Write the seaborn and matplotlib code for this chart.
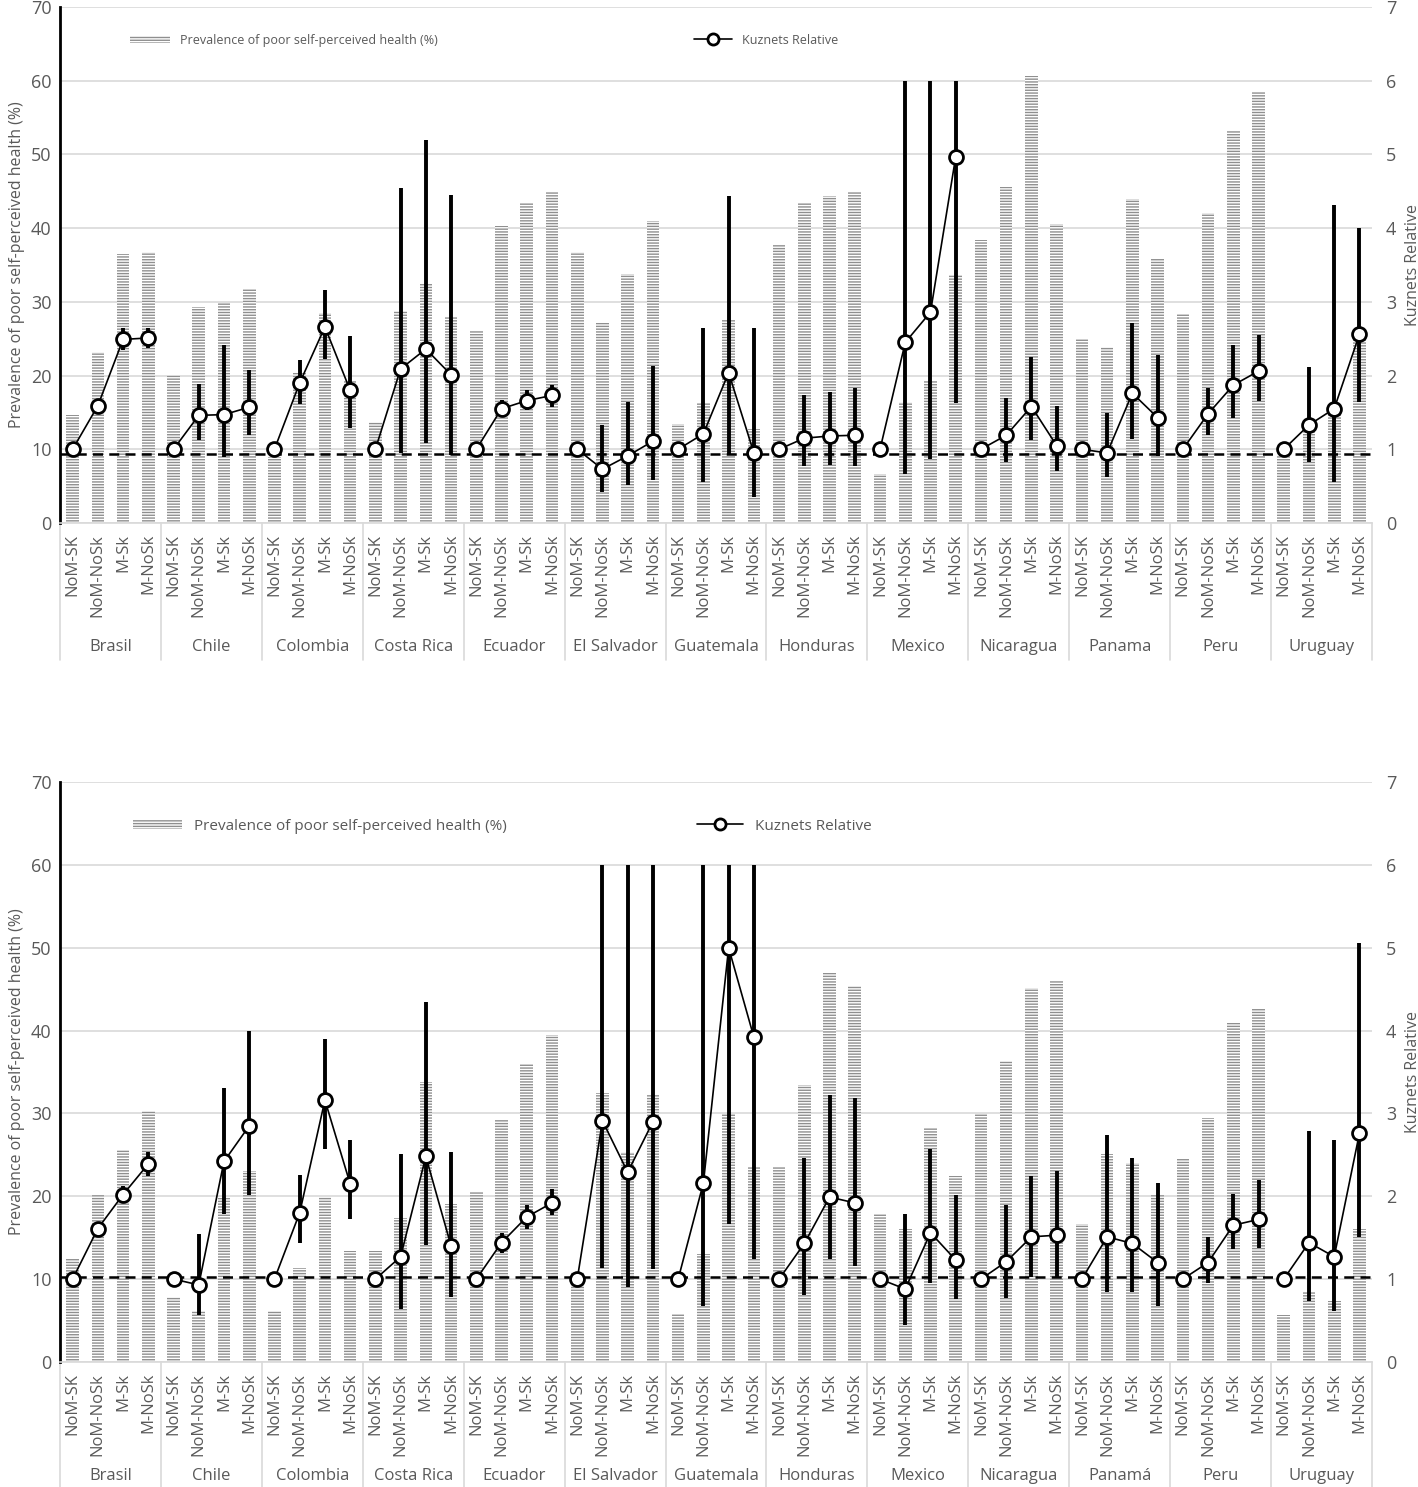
import numpy as np
import pandas as pd
import matplotlib
matplotlib.use("Agg")
import matplotlib.pyplot as plt
import matplotlib.transforms as mtransforms
from matplotlib.patches import Patch
from matplotlib.lines import Line2D
import seaborn as sns

sns.set_theme(style="white")
plt.rcParams['font.family'] = ['Open Sans', 'DejaVu Sans']
plt.rcParams['hatch.linewidth'] = 1.0

nan = np.nan

# --- data -----------------------------------------------------------------
subgroups = ["NoM-SK", "NoM-NoSk", "M-Sk", "M-NoSk"]
countries_top = ["Brasil", "Chile", "Colombia", "Costa Rica", "Ecuador", "El Salvador",
                 "Guatemala", "Honduras", "Mexico", "Nicaragua", "Panama", "Peru", "Uruguay"]
countries_bot = ["Brasil", "Chile", "Colombia", "Costa Rica", "Ecuador", "El Salvador",
                 "Guatemala", "Honduras", "Mexico", "Nicaragua", "Panamá", "Peru", "Uruguay"]

# prevalence of poor self-perceived health (%) - top panel
prev_top = [14.7, 23.2, 36.5, 36.8, 20.1, 29.3, 29.8, 31.7, 9.0, 20.3, 28.5, 19.4,
            13.7, 28.8, 32.6, 28.0, 26.0, 40.3, 43.4, 44.9, 36.7, 27.1, 33.8, 40.9,
            13.4, 16.3, 27.5, 12.8, 37.7, 43.4, 44.3, 44.9, 6.7, 16.4, 19.3, 33.6,
            38.4, 45.6, 60.7, 40.6, 25.0, 23.9, 44.0, 36.0, 28.4, 42.1, 53.2, 58.5,
            9.2, 12.8, 15.0, 25.4]
# Kuznets relative index and its interval - top panel
kuz_top = [1.0, 1.59, 2.49, 2.51, 1.0, 1.46, 1.47, 1.57, 1.0, 1.90, 2.66, 1.80,
           1.0, 2.09, 2.36, 2.01, 1.0, 1.55, 1.66, 1.73, 1.0, 0.73, 0.91, 1.11,
           1.0, 1.21, 2.04, 0.95, 1.0, 1.15, 1.18, 1.19, 1.0, 2.45, 2.86, 4.97,
           1.0, 1.19, 1.58, 1.05, 1.0, 0.95, 1.76, 1.43, 1.0, 1.48, 1.87, 2.06,
           1.0, 1.33, 1.55, 2.56]
lo_top = [nan, 1.53, 2.34, 2.38, nan, 1.12, 0.90, 1.20, nan, 1.62, 2.23, 1.29,
          nan, 0.95, 1.08, 0.92, nan, 1.45, 1.53, 1.58, nan, 0.42, 0.51, 0.58,
          nan, 0.56, 0.94, 0.35, nan, 0.77, 0.78, 0.77, nan, 0.67, 0.87, 1.63,
          nan, 0.83, 1.12, 0.70, nan, 0.62, 1.14, 0.91, nan, 1.19, 1.42, 1.65,
          nan, 0.83, 0.56, 1.64]
hi_top = [nan, 1.65, 2.64, 2.65, nan, 1.89, 2.42, 2.07, nan, 2.21, 3.16, 2.53,
          nan, 4.54, 5.19, 4.45, nan, 1.67, 1.80, 1.87, nan, 1.33, 1.64, 2.13,
          nan, 2.65, 4.43, 2.64, nan, 1.73, 1.78, 1.83, nan, 6.0, 6.0, 6.0,
          nan, 1.70, 2.25, 1.59, nan, 1.49, 2.71, 2.28, nan, 1.83, 2.41, 2.55,
          nan, 2.12, 4.31, 4.0]

# bottom panel
prev_bot = [12.6, 20.1, 25.6, 30.3, 7.8, 6.2, 19.8, 23.0, 6.2, 11.3, 19.9, 13.4,
            13.4, 17.4, 33.8, 19.1, 20.5, 29.3, 36.0, 39.5, 10.9, 32.5, 25.4, 32.2,
            5.8, 13.0, 29.9, 23.5, 23.6, 33.4, 47.0, 45.4, 17.9, 16.0, 28.2, 22.5,
            29.9, 36.3, 45.1, 46.1, 16.6, 25.1, 24.0, 20.2, 24.6, 29.5, 40.9, 42.7,
            5.7, 8.4, 7.4, 16.0]
kuz_bot = [1.0, 1.61, 2.02, 2.39, 1.0, 0.93, 2.42, 2.85, 1.0, 1.80, 3.16, 2.15,
           1.0, 1.27, 2.48, 1.40, 1.0, 1.44, 1.75, 1.92, 1.0, 2.91, 2.29, 2.90,
           1.0, 2.16, 5.0, 3.92, 1.0, 1.43, 1.99, 1.92, 1.0, 0.88, 1.56, 1.23,
           1.0, 1.21, 1.51, 1.53, 1.0, 1.51, 1.43, 1.20, 1.0, 1.20, 1.65, 1.72,
           1.0, 1.44, 1.27, 2.76]
lo_bot = [nan, 1.51, 1.92, 2.25, nan, 0.57, 1.78, 2.02, nan, 1.44, 2.57, 1.72,
          nan, 0.64, 1.41, 0.78, nan, 1.31, 1.61, 1.77, nan, 1.13, 0.91, 1.12,
          nan, 0.68, 1.66, 1.24, nan, 0.81, 1.24, 1.16, nan, 0.44, 0.95, 0.76,
          nan, 0.77, 1.02, 1.02, nan, 0.84, 0.85, 0.67, nan, 0.95, 1.36, 1.37,
          nan, 0.74, 0.61, 1.51]
hi_bot = [nan, 1.69, 2.12, 2.54, nan, 1.54, 3.31, 4.0, nan, 2.26, 3.9, 2.68,
          nan, 2.51, 4.35, 2.54, nan, 1.56, 1.90, 2.09, nan, 6.0, 6.0, 6.0,
          nan, 6.0, 6.0, 6.0, nan, 2.46, 3.22, 3.18, nan, 1.78, 2.57, 2.01,
          nan, 1.89, 2.24, 2.30, nan, 2.74, 2.46, 2.16, nan, 1.51, 2.03, 2.20,
          nan, 2.79, 2.68, 5.06]

ref_top = 0.93
ref_bot = 1.02

GRAY_TXT = '#595959'
BAR_HATCH = '#8f8f8f'


def draw_panel(ax, countries, prev, kuz, lo, hi, ref, label_y, sep_bottom, leg_y, leg_fs):
    n = len(countries) * len(subgroups)
    df = pd.DataFrame({
        "country": np.repeat(countries, len(subgroups)),
        "sub": subgroups * len(countries),
        "pos": np.arange(n),
        "prev": prev, "kuz": kuz, "lo": lo, "hi": hi,
    })
    df["slot"] = df["country"] + "|" + df["sub"]

    # hatched bars on the left axis
    sns.barplot(data=df, x="slot", y="prev", order=list(df["slot"]), ax=ax,
                color="white", edgecolor=BAR_HATCH, linewidth=0, hatch="------",
                width=0.5, errorbar=None, zorder=2)
    ax.set_xlim(-0.5, n - 0.5)
    ax.set_ylim(0, 70)
    ax.set_yticks(range(0, 71, 10))
    ax.grid(axis="y", color="#d9d9d9", lw=1.2, zorder=0)
    ax.set_axisbelow(True)
    ax.set_xticks(range(n))
    ax.set_xticklabels(df["sub"], rotation=90, fontsize=12, color=GRAY_TXT)
    ax.tick_params(axis="x", length=0, pad=8)
    ax.tick_params(axis="y", length=0, labelsize=13, colors=GRAY_TXT, pad=6)
    ax.set_xlabel("")
    ax.set_ylabel("Prevalence of poor self-perceived health (%)", fontsize=11.5,
                  color=GRAY_TXT, labelpad=4)
    for s in ["top", "right"]:
        ax.spines[s].set_visible(False)
    ax.spines["left"].set_color("black")
    ax.spines["left"].set_linewidth(2)
    ax.spines["bottom"].set_color("#d9d9d9")
    ax.spines["bottom"].set_linewidth(1.2)

    # category groups under the axis
    trans = mtransforms.blended_transform_factory(ax.transData, ax.transAxes)
    for k in range(len(countries) + 1):
        x = 4 * k - 0.5
        ax.plot([x, x], [0, sep_bottom], transform=trans, color="#d9d9d9", lw=1.2,
                clip_on=False)
    for k, c in enumerate(countries):
        ax.text(4 * k + 1.5, label_y, c, transform=trans, ha="center", va="center",
                fontsize=12, color=GRAY_TXT)

    # Kuznets relative on the right axis
    ax2 = ax.twinx()
    ax2.set_ylim(0, 7)
    ax2.set_yticks(range(0, 8))
    ax2.tick_params(axis="y", length=0, labelsize=13, colors=GRAY_TXT, pad=10)
    ax2.set_ylabel("Kuznets Relative", fontsize=11.5, color=GRAY_TXT, labelpad=6)
    for s in ax2.spines.values():
        s.set_visible(False)
    ax2.grid(False)

    ax2.axhline(ref, color="black", lw=1.8, ls=(0, (4, 2.5)), zorder=3)
    err = df.dropna(subset=["lo"])
    ax2.vlines(err["pos"], err["lo"], err["hi"], color="black", lw=2.8, zorder=4)
    sns.lineplot(data=df, x="pos", y="kuz", units="country", estimator=None, ax=ax2,
                 color="black", lw=1.2, marker="o", markersize=10,
                 markerfacecolor="white", markeredgecolor="black",
                 markeredgewidth=2, zorder=5, legend=False)
    ax2.set_xlim(-0.5, n - 0.5)
    ax2.set_xlabel("")

    # legends
    bar_h = Patch(facecolor="white", edgecolor=BAR_HATCH, hatch="------", linewidth=0)
    leg1 = ax2.legend([bar_h], ["Prevalence of poor self-perceived health (%)"],
                      loc="center left", bbox_to_anchor=(0.045, leg_y), frameon=False,
                      fontsize=leg_fs, handlelength=3.2, handleheight=0.5,
                      labelcolor=GRAY_TXT)
    ax2.add_artist(leg1)
    line_h = Line2D([], [], color="black", lw=1.2, marker="o", markersize=8,
                    markerfacecolor="white", markeredgewidth=2)
    ax2.legend([line_h], ["Kuznets Relative"], loc="center left",
               bbox_to_anchor=(0.475, leg_y), frameon=False, fontsize=leg_fs,
               handlelength=3, labelcolor=GRAY_TXT)
    return ax2


fig = plt.figure(figsize=(14.18, 14.87), dpi=100)
ax_top = fig.add_axes([0.0423, 0.6483, 0.9253, 0.347])
ax_bot = fig.add_axes([0.0423, 0.0841, 0.9253, 0.390])

draw_panel(ax_top, countries_top, prev_top, kuz_top, lo_top, hi_top, ref_top,
           label_y=-0.24, sep_bottom=-0.265, leg_y=0.936, leg_fs=9)
draw_panel(ax_bot, countries_bot, prev_bot, kuz_bot, lo_bot, hi_bot, ref_bot,
           label_y=-0.197, sep_bottom=-0.216, leg_y=0.924, leg_fs=11)

fig.savefig("out.png", dpi=100)
